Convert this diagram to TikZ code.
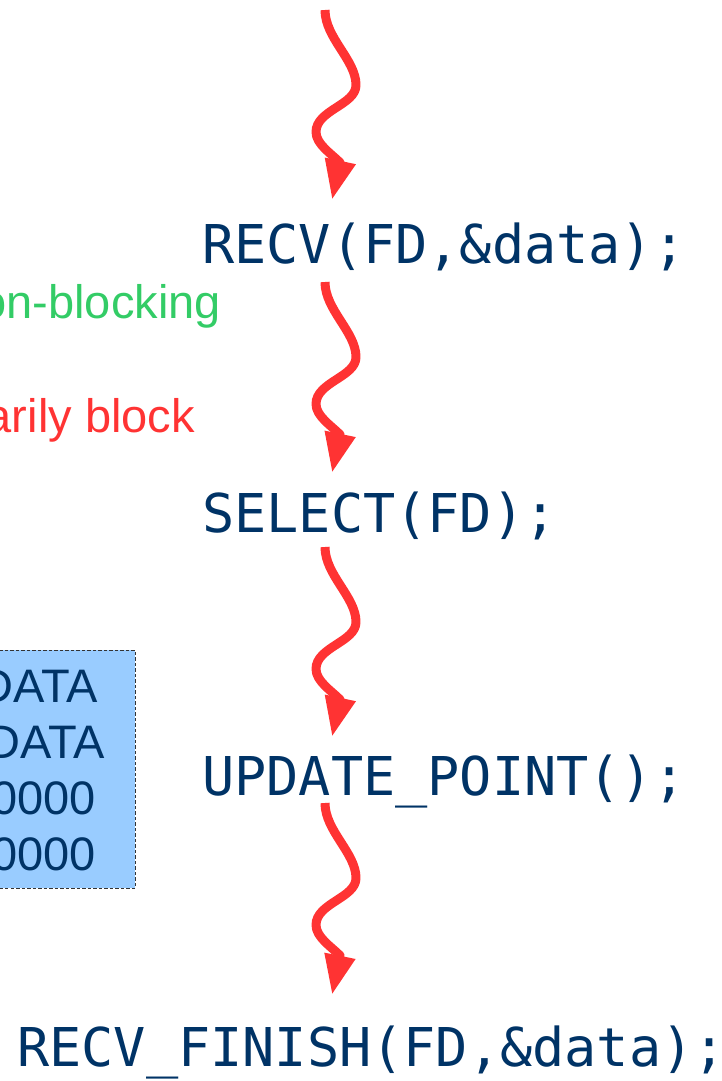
\documentclass[tikz,border=0pt]{standalone}
\usepackage{fontspec}
\setmainfont{Liberation Sans}
\newfontfamily\codefont{DejaVu Sans Mono}
\usetikzlibrary{arrows.meta}

\definecolor{codenavy}{RGB}{0,51,102}
\definecolor{flowred}{RGB}{255,51,51}
\definecolor{okgreen}{RGB}{51,204,102}
\definecolor{boxblue}{RGB}{153,204,255}
\definecolor{boxedge}{RGB}{51,51,51}

% wavy control-flow arrow from one named point to another;
% the last straight piece only carries the head
\newcommand\wigglearrow[2]{%
  \draw[wiggle] (#1) .. controls +(0,-28) and +(0,25) .. ++(31,-75)
    .. controls +(0,-20) and +(0,22) .. ++(-40,-47)
    .. controls +(0,-12) and +(-9,9) .. ++(24,-30.5)
    -- (#2);}

\begin{document}
\begin{tikzpicture}[x=1pt,y=1pt,
  code/.style={anchor=base west, inner sep=0pt, text=codenavy,
    font=\codefont\fontsize{53.5}{60}\selectfont},
  note/.style={anchor=base east, inner sep=0pt,
    font=\fontsize{47}{56}\selectfont},
  wiggle/.style={draw=flowred, line width=9pt, line join=round,
    -{Triangle[length=40pt,width=29pt]}},
  membox/.style={fill=boxblue, draw=boxedge, line width=0.9pt,
    dash pattern=on 3.5pt off 2pt},
]
\useasboundingbox (0,0) rectangle (722,-1081);
\clip (0,0) rectangle (722,-1081);

% side notes
\node[note, text=okgreen] (nb) at (221,-318) {on-blocking};
\node[note, text=flowred] (bl) at (195,-432) {arily block};

% buffer box
\draw[membox] (-10,-650) rectangle (135,-888);
\node[note, text=codenavy] (d1) at (98,-702) {DATA};
\node[note, text=codenavy] (d2) at (105,-758) {DATA};
\node[note, text=codenavy] (d3) at (96,-814) {0000};
\node[note, text=codenavy] (d4) at (96,-870) {0000};

% call sequence
\node[code] (recv) at (202,-263) {RECV(FD,\&data);};
\node[code] (select) at (202,-532) {SELECT(FD);};
\node[code] (update) at (202,-795) {UPDATE\_POINT();};
\node[code] (finish) at (17,-1066) {RECV\_FINISH(FD,\&data);};

% arrow end points
\coordinate (in0) at (325,-10);
\coordinate (to1) at (332,-200);
\coordinate (out1) at (325,-282);
\coordinate (to2) at (332,-473);
\coordinate (out2) at (325,-547);
\coordinate (to3) at (332,-737);
\coordinate (out3) at (325,-803);
\coordinate (to4) at (332,-995);

\wigglearrow{in0}{to1}
\wigglearrow{out1}{to2}
\wigglearrow{out2}{to3}
\wigglearrow{out3}{to4}
\end{tikzpicture}
\end{document}
